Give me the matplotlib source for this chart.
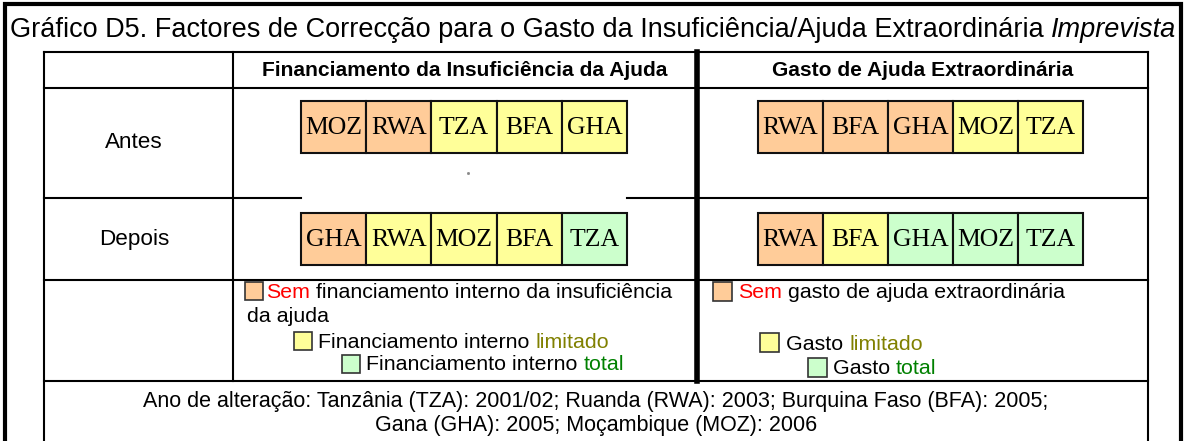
import matplotlib
matplotlib.use("Agg")
import matplotlib.pyplot as plt
from matplotlib.patches import Rectangle

# ---------------- data ----------------
title_main = "Gráfico D5. Factores de Correcção para o Gasto da Insuficiência/Ajuda Extraordinária "
title_italic = "Imprevista"
col_headers = ["Financiamento da Insuficiência da Ajuda", "Gasto de Ajuda Extraordinária"]
row_labels = ["Antes", "Depois"]

fin_antes = ["MOZ", "RWA", "TZA", "BFA", "GHA"]
fin_antes_status = [0, 0, 1, 1, 1]
fin_depois = ["GHA", "RWA", "MOZ", "BFA", "TZA"]
fin_depois_status = [0, 1, 1, 1, 2]

gasto_antes = ["RWA", "BFA", "GHA", "MOZ", "TZA"]
gasto_antes_status = [0, 0, 0, 1, 1]
gasto_depois = ["RWA", "BFA", "GHA", "MOZ", "TZA"]
gasto_depois_status = [0, 1, 2, 2, 2]

status_colors = ["#FFCC99", "#FFFF99", "#CCFFCC"]

legend_fin = [
    [("Sem", "#FF0000"), (" financiamento interno da insuficiência", "#000000")],
    [("Financiamento interno ", "#000000"), ("limitado", "#808000")],
    [("Financiamento interno ", "#000000"), ("total", "#008000")],
]
legend_gasto = [
    [("Sem", "#FF0000"), (" gasto de ajuda extraordinária", "#000000")],
    [("Gasto ", "#000000"), ("limitado", "#808000")],
    [("Gasto ", "#000000"), ("total", "#008000")],
]
footnote = ["Ano de alteração: Tanzânia (TZA): 2001/02; Ruanda (RWA): 2003; Burquina Faso (BFA): 2005;",
            "Gana (GHA): 2005; Moçambique (MOZ): 2006"]

# ---------------- figure ----------------
W, H = 1185, 441
fig = plt.figure(figsize=(W / 100, H / 100), dpi=100)
ax = fig.add_axes([0, 0, 1, 1])
ax.set_xlim(0, W)
ax.set_ylim(H, 0)
ax.axis("off")
SANS = "Liberation Sans"
SERIF = "Liberation Serif"

renderer = fig.canvas.get_renderer()


def seq_text(x, y, parts, size, **kw):
    """draw text pieces one after another"""
    inv = ax.transData.inverted()
    for s, c in parts:
        t = ax.text(x, y, s, color=c, fontsize=size, family=SANS, va="center", ha="left", **kw)
        bb = t.get_window_extent(renderer=renderer)
        x = inv.transform((bb.x1, bb.y0))[0]
    return x


# outer frame
ax.plot([5, 5, 1181, 1181], [H + 5, 3.5, 3.5, H + 5], color="black", lw=3, solid_joinstyle="miter")

# title
xe = seq_text(10, 30, [(title_main, "black")], 19.5)
ax.text(xe, 30, title_italic, fontsize=19.5, family=SANS, style="italic", va="center", ha="left")

# table geometry
L, C1, MID, R = 44, 233, 697, 1148
y_top, y_hdr, y_ab, y_dl, y_lf = 52, 88, 198, 280, 381
lw = 1.5
ax.plot([L, R], [y_top, y_top], color="black", lw=lw)
ax.plot([L, R], [y_hdr, y_hdr], color="black", lw=lw)
ax.plot([L, 301], [y_ab, y_ab], color="black", lw=lw)
ax.plot([627, R], [y_ab, y_ab], color="black", lw=lw)
ax.plot([L, R], [y_dl, y_dl], color="black", lw=lw)
ax.plot([L, R], [y_lf, y_lf], color="black", lw=lw)
ax.plot([L, L], [y_top, H + 5], color="black", lw=lw)
ax.plot([R, R], [y_top, H + 5], color="black", lw=lw)
ax.plot([C1, C1], [y_top, y_lf], color="black", lw=lw)
ax.plot([MID, MID], [y_top, y_lf], color="black", lw=4)

# headers
ax.text((C1 + MID) / 2, 70, col_headers[0], fontsize=15.1, family=SANS, weight="bold", ha="center", va="center")
ax.text((MID + R) / 2, 70, col_headers[1], fontsize=15.1, family=SANS, weight="bold", ha="center", va="center")

# row labels
ax.text((L + C1) / 2 - 5, 142, row_labels[0], fontsize=16.2, family=SANS, ha="center", va="center")
ax.text((L + C1) / 2 - 4, 240, row_labels[1], fontsize=16.2, family=SANS, ha="center", va="center")

# boxes
def draw_boxes(x0, bw, ytop, bh, labels, status):
    xs = [x0 + i * bw for i in range(len(labels))]
    cols = [status_colors[s] for s in status]
    ax.bar(xs, [bh] * len(labels), width=bw, bottom=ytop, align="edge",
           color=cols, edgecolor="#111111", linewidth=1.5)
    for x, lab in zip(xs, labels):
        ax.text(x + bw / 2, ytop + bh / 2 + 1, lab, fontsize=18.5, family=SERIF, ha="center", va="center")


draw_boxes(301, 65.2, 101, 52, fin_antes, fin_antes_status)
draw_boxes(301, 65.2, 213, 52, fin_depois, fin_depois_status)
draw_boxes(758, 65.0, 101, 52, gasto_antes, gasto_antes_status)
draw_boxes(758, 65.0, 213, 52, gasto_depois, gasto_depois_status)

# small stray dot
ax.plot([468], [173], marker="s", ms=1, color="#888888")

# legends
def legend_sq(x, y, s, c):
    ax.add_patch(Rectangle((x, y - s / 2), s, s, facecolor=c, edgecolor="#333333", lw=1.2))

LFS = 15.4
legend_sq(245, 291, 18, status_colors[0])
seq_text(266, 293, legend_fin[0], LFS)
seq_text(247, 317, [("da ajuda", "black")], LFS)
legend_sq(294, 341, 18, status_colors[1])
seq_text(318, 342, legend_fin[1], LFS)
legend_sq(342, 364, 18, status_colors[2])
seq_text(366, 365, legend_fin[2], LFS)

legend_sq(713, 291, 19, status_colors[0])
seq_text(738, 293, legend_gasto[0], LFS)
legend_sq(760, 342, 19, status_colors[1])
seq_text(786, 345, legend_gasto[1], LFS)
legend_sq(808, 367, 19, status_colors[2])
seq_text(833, 369, legend_gasto[2], LFS)

# footnote
ax.text((L + R) / 2, 402, footnote[0], fontsize=15.5, family=SANS, ha="center", va="center")
ax.text((L + R) / 2, 425, footnote[1], fontsize=15.5, family=SANS, ha="center", va="center")

fig.savefig("out.png", dpi=100)
